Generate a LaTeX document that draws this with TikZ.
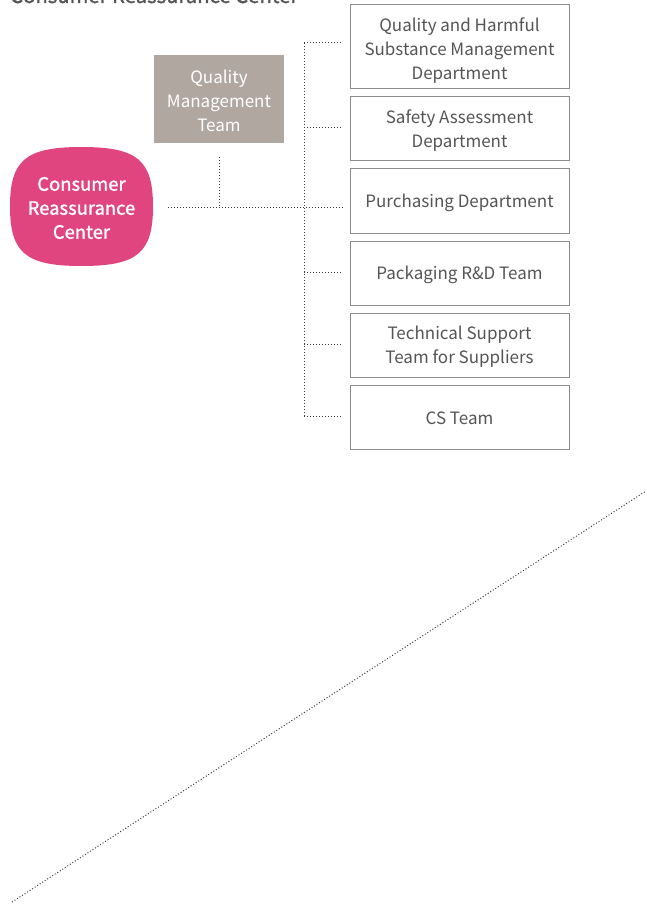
\documentclass[tikz,border=0pt]{standalone}
\usepackage{fontspec}
\setmainfont{Noto Sans CJK KR}
\newfontfamily\medfont[FakeBold=1.2]{Noto Sans CJK KR}
\definecolor{pinkc}{RGB}{224,69,128}
\definecolor{greyc}{RGB}{176,168,160}
\definecolor{txtc}{RGB}{85,85,85}
\definecolor{bordc}{RGB}{140,140,140}
\definecolor{dotc}{RGB}{60,60,60}
\tikzset{
  dept/.style={draw=bordc, line width=1pt, fill=white, minimum width=219pt, minimum height=64pt, inner sep=0pt},
  depttext/.style={align=center, text=txtc, inner sep=0pt, font=\fontsize{17}{24}\selectfont},
  dotline/.style={draw=dotc, line width=1pt, dash pattern=on 1pt off 2pt},
}
\begin{document}
\begin{tikzpicture}[x=1pt,y=-1pt]
\useasboundingbox (0,0) rectangle (646,904);
% title (cut off at top, as in the reference)
\node[anchor=base west, inner sep=0pt, text=txtc, font=\medfont\fontsize{20.3}{22}\selectfont] (title) at (10,3) {Consumer Reassurance Center};
% pink squircle
\node[minimum width=143pt, minimum height=119pt, inner sep=0pt] (crc) at (81.5,206.5) {};
\fill[pinkc] (81.5,147) .. controls (137.3,147) and (153,160.1) .. (153,206.5)
  .. controls (153,252.9) and (137.3,266) .. (81.5,266)
  .. controls (25.7,266) and (10,252.9) .. (10,206.5)
  .. controls (10,160.1) and (25.7,147) .. cycle;
\node[align=center, text=white, inner sep=0pt, font=\medfont\fontsize{18.4}{24}\selectfont] (crct) at ([yshift=-1.5pt]crc.center) {Consumer\\Reassurance\\Center};
% grey box
\node[fill=greyc, minimum width=130pt, minimum height=88pt, inner sep=0pt] (qmt) at (219,99) {};
\node[align=center, text=white, inner sep=0pt, font=\fontsize{17}{24}\selectfont] (qmtt) at ([yshift=-2pt]qmt.center) {Quality\\Management\\Team};
% departments
\node[dept, minimum height=84pt] (d1) at (459.5,47) {};
\node[dept] (d2) at (459.5,129) {};
\node[dept] (d3) at (459.5,201) {};
\node[dept] (d4) at (459.5,273) {};
\node[dept] (d5) at (459.5,345) {};
\node[dept] (d6) at (459.5,417) {};
\node[depttext] (d1t) at ([yshift=-4pt]d1.center) {Quality and Harmful\\Substance Management\\Department};
\node[depttext] (d2t) at ([yshift=-2pt]d2.center) {Safety Assessment\\Department};
\node[depttext] (d3t) at ([yshift=-1.5pt]d3.center) {Purchasing Department};
\node[depttext] (d4t) at ([yshift=-1.5pt]d4.center) {Packaging R\&D Team};
\node[depttext] (d5t) at ([yshift=-2pt]d5.center) {Technical Support\\Team for Suppliers};
\node[depttext] (d6t) at ([yshift=-1pt]d6.center) {CS Team};
% connectors
\coordinate (j) at (304,207);
\coordinate (b1) at (304,43);
\coordinate (b2) at (304,128);
\coordinate (b4) at (304,272);
\coordinate (b5) at (304,344);
\coordinate (b6) at (304,416);
\draw[dotline] ([xshift=15pt]crc.east |- j) -- ([xshift=-7pt]d3.west |- j);
\draw[dotline] ([yshift=-14pt]qmt.south) -- (qmt.south |- j);
\draw[dotline] (b1) -- (b6);
\draw[dotline] (b1) -- ([xshift=-7pt]d1.west |- b1);
\draw[dotline] (b2) -- ([xshift=-7pt]d2.west |- b2);
\draw[dotline] (b4) -- ([xshift=-7pt]d4.west |- b4);
\draw[dotline] (b5) -- ([xshift=-7pt]d5.west |- b5);
\draw[dotline] (b6) -- ([xshift=-7pt]d6.west |- b6);
% diagonal
\coordinate (dg1) at (12,902);
\coordinate (dg2) at (646,491);
\draw[dotline] (dg1) -- (dg2);
\end{tikzpicture}
\end{document}
